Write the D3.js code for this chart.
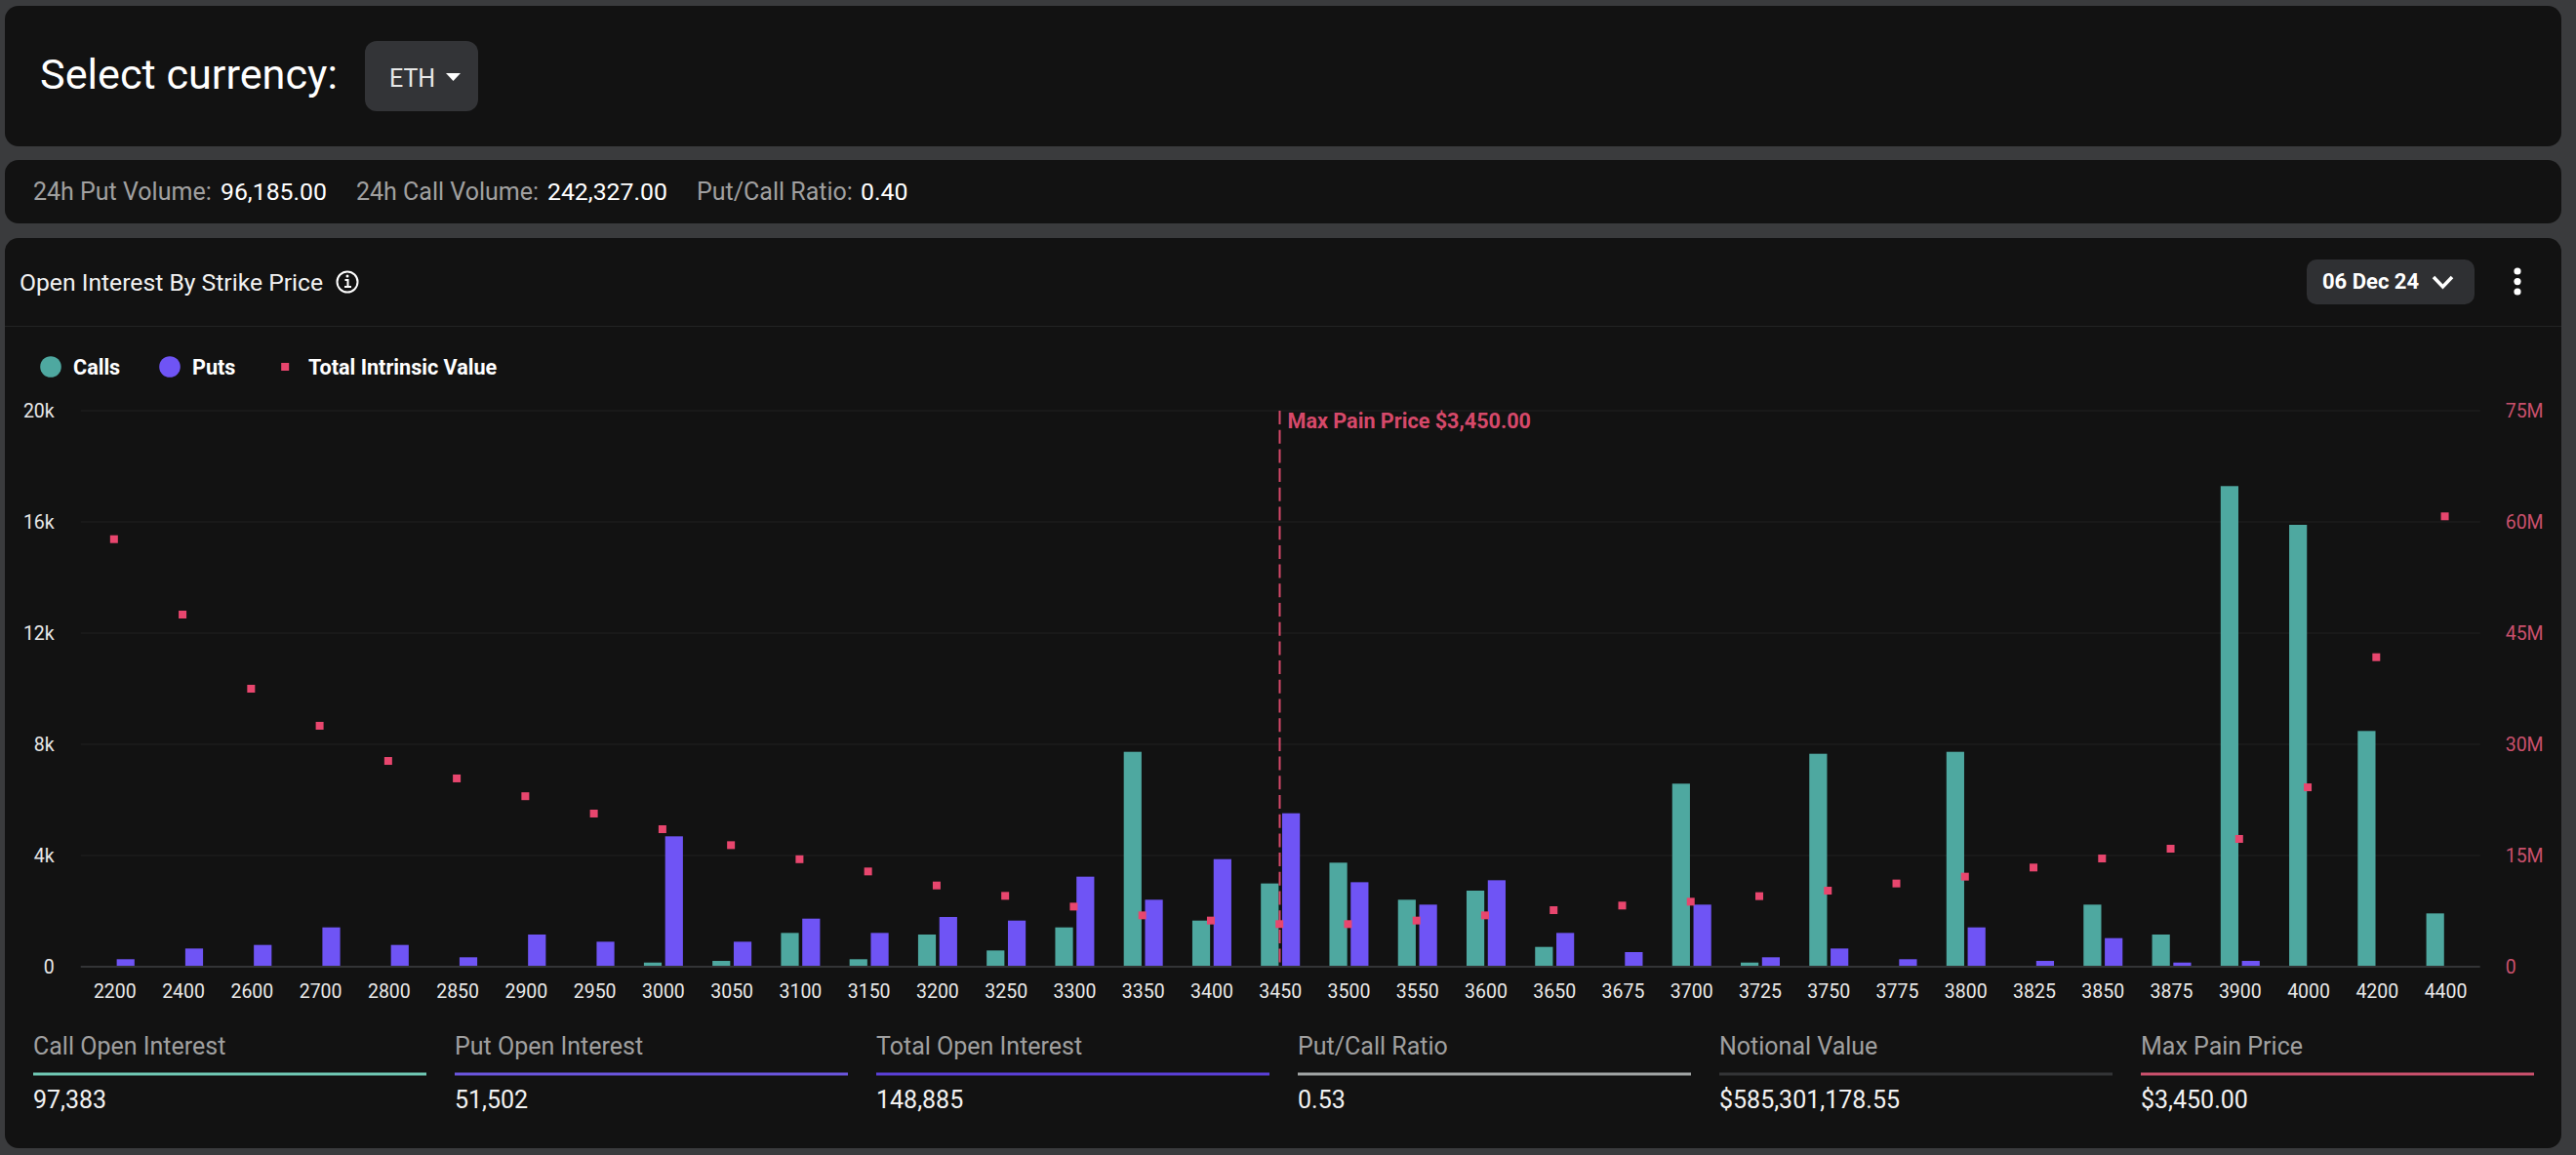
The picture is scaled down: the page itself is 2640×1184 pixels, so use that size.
<!DOCTYPE html>
<html>
<head>
<meta charset="utf-8">
<script src="https://cdn.jsdelivr.net/npm/d3@7"></script>
<style>
  html, body { margin: 0; padding: 0; background: #3a3b3d; overflow: hidden; }
  svg { display: block; }
  text { font-family: Roboto, sans-serif; }
</style>
</head>
<body>
<div id="chart"></div>
<script>
// values
const strikes = ['2200','2400','2600','2700','2800','2850','2900','2950','3000','3050','3100','3150','3200','3250','3300','3350','3400','3450','3500','3550','3600','3650','3675','3700','3725','3750','3775','3800','3825','3850','3875','3900','4000','4200','4400'];
const calls = [0,0,0,0,0,0,0,0,150,210,1216,270,1158,585,1415,7730,1660,2995,3743,2410,2737,713,0,6585,150,7660,0,7730,0,2234,1158,17288,15895,8480,1918];
const puts = [270,655,784,1415,784,340,1158,900,4690,900,1730,1216,1790,1660,3240,2410,3870,5520,3040,2234,3111,1216,526,2234,340,655,270,1415,210,1029,150,210,0,0,0];
const intrinsic = [57.67,47.5,37.5,32.5,27.76,25.4,23.0,20.66,18.55,16.4,14.5,12.85,10.96,9.56,8.11,6.93,6.23,5.75,5.75,6.23,6.93,7.63,8.25,8.77,9.52,10.26,11.23,12.15,13.38,14.6,15.92,17.24,24.2,41.75,60.75];

const leftTicks = [0, 4000, 8000, 12000, 16000, 20000];
const rightTicks = [0, 15, 30, 45, 60, 75];

const maxPainStrike = '3450';
const maxPainLabel = 'Max Pain Price $3,450.00';

const statLabels = ['Call Open Interest','Put Open Interest','Total Open Interest','Put/Call Ratio','Notional Value','Max Pain Price'];
const statValues = ['97,383','51,502','148,885','0.53','$585,301,178.55','$3,450.00'];
const statColors = ['#6fc7b3','#6a55dc','#5a3fd6','#a0a3a3','#333436','#c9506c'];

const cardColor = '#121212';
const callColor = '#4ea8a0';
const putColor = '#6f54f5';
const redDot = '#e8466e';
const redText = '#d6496a';
const mutedText = '#a0a0a0';

let svg = d3.select('#chart').append('svg')
  .attr('width', 2640)
  .attr('height', 1184);

// page cards
[[5, 6, 2620, 144], [5, 164, 2620, 65], [5, 244, 2620, 933]].forEach(function(c) {
  svg.append('rect')
    .attr('x', c[0]).attr('y', c[1]).attr('width', c[2]).attr('height', c[3])
    .attr('rx', 14).attr('fill', cardColor);
});

function label(g, x, y, str, size, fill, weight) {
  return g.append('text')
    .attr('x', x).attr('y', y)
    .attr('font-size', size)
    .attr('font-weight', weight || 400)
    .attr('fill', fill)
    .text(str);
}

// currency selector
label(svg, 41, 91, 'Select currency:', 43.2, '#fff');
svg.append('rect').attr('x', 374).attr('y', 42).attr('width', 116).attr('height', 72)
  .attr('rx', 12).attr('fill', '#333437');
label(svg, 399, 89, 'ETH', 25, '#e8e8e8');
svg.append('path').attr('d', 'M457 75H472L464.5 83Z').attr('fill', '#fff');

// volume strip
label(svg, 34, 205, '24h Put Volume:', 25, mutedText);
label(svg, 226, 205, '96,185.00', 24.8, '#fff');
label(svg, 365, 205, '24h Call Volume:', 25, mutedText);
label(svg, 561, 205, '242,327.00', 24.8, '#fff');
label(svg, 714, 205, 'Put/Call Ratio:', 25, mutedText);
label(svg, 882, 205, '0.40', 24.8, '#fff');

// chart header
label(svg, 20, 298, 'Open Interest By Strike Price', 24.7, '#f2f2f2');
let info = svg.append('g').attr('transform', 'translate(356,289)');
info.append('circle').attr('r', 10.5).attr('fill', 'none').attr('stroke', '#fff').attr('stroke-width', 2);
info.append('path').attr('d', 'M-2.5 -2H0.5V5M-3 5H4').attr('fill', 'none').attr('stroke', '#fff').attr('stroke-width', 2);
info.append('circle').attr('cx', 0).attr('cy', -6).attr('r', 1.5).attr('fill', '#fff');

svg.append('line').attr('x1', 5).attr('x2', 2625).attr('y1', 334.5).attr('y2', 334.5)
  .attr('stroke', '#222324').attr('stroke-width', 1);

svg.append('rect').attr('x', 2364).attr('y', 266).attr('width', 172).attr('height', 46)
  .attr('rx', 10).attr('fill', '#2f3033');
label(svg, 2380, 296, '06 Dec 24', 22, '#fff', 700);
svg.append('path').attr('d', 'M2494 284L2503.5 294L2513 284').attr('fill', 'none')
  .attr('stroke', '#fff').attr('stroke-width', 3.5);
svg.selectAll('.menu-dot').data([278, 288.6, 299]).enter().append('circle')
  .attr('class', 'menu-dot')
  .attr('cx', 2580).attr('cy', d => d).attr('r', 3.6).attr('fill', '#fff');

// legend
svg.append('circle').attr('cx', 52).attr('cy', 376).attr('r', 10.8).attr('fill', callColor);
label(svg, 75, 384, 'Calls', 21.6, '#fff', 700);
svg.append('circle').attr('cx', 174).attr('cy', 376).attr('r', 10.8).attr('fill', putColor);
label(svg, 197, 384, 'Puts', 21.6, '#fff', 700);
svg.append('rect').attr('x', 288.2).attr('y', 372).attr('width', 8).attr('height', 8).attr('fill', redDot);
label(svg, 316, 384, 'Total Intrinsic Value', 21.6, '#fff', 700);

// scales
let x = d3.scaleBand().domain(strikes).range([82.7, 2541.7]);
let xSeries = d3.scaleBand().domain(['calls', 'puts']).range([-20, 20]).paddingInner(0.165);
let yCount = d3.scaleLinear().domain([0, 20000]).range([991, 421]);
let yMoney = d3.scaleLinear().domain([0, 75]).range([991, 421]);

// grid
svg.append('g').selectAll('line')
  .data(leftTicks.slice(1))
  .enter().append('line')
  .attr('x1', 82.7).attr('x2', 2541.7)
  .attr('y1', d => yCount(d)).attr('y2', d => yCount(d))
  .attr('stroke', '#1d1d1d').attr('stroke-width', 1.5);

// axes
let leftAxis = d3.axisLeft(yCount).tickValues(leftTicks).tickSize(0).tickPadding(27)
  .tickFormat(d => d === 0 ? '0' : (d / 1000) + 'k');
let rightAxis = d3.axisRight(yMoney).tickValues(rightTicks).tickSize(0).tickPadding(26)
  .tickFormat(d => d === 0 ? '0' : d + 'M');
let bottomAxis = d3.axisBottom(x).tickSize(0).tickPadding(18);

let gLeft = svg.append('g').attr('transform', 'translate(82.7,0)').call(leftAxis);
let gRight = svg.append('g').attr('transform', 'translate(2541.7,0)').call(rightAxis);
let gBottom = svg.append('g').attr('transform', 'translate(0,991)').call(bottomAxis);

[gLeft, gRight, gBottom].forEach(function(g) {
  g.attr('font-family', 'Roboto, sans-serif').attr('font-size', 19.5);
  g.selectAll('.domain').remove();
});
gLeft.selectAll('text').attr('fill', '#e8e8e8').attr('dy', '0.35em');
gRight.selectAll('text').attr('fill', '#c9506c').attr('dy', '0.35em');
gBottom.selectAll('text').attr('fill', '#e8e8e8');

svg.append('line').attr('x1', 82.7).attr('x2', 2541.7).attr('y1', 991).attr('y2', 991)
  .attr('stroke', '#333436').attr('stroke-width', 2);

// bars
let barGroups = svg.append('g').selectAll('g')
  .data(strikes)
  .enter().append('g')
  .attr('transform', d => 'translate(' + (x(d) + x.bandwidth() / 2) + ',0)');

barGroups.append('rect')
  .attr('x', xSeries('calls')).attr('width', xSeries.bandwidth())
  .attr('y', (d, i) => yCount(calls[i]))
  .attr('height', (d, i) => 990 - yCount(calls[i]) > 0 ? 990 - yCount(calls[i]) : 0)
  .attr('fill', callColor);

barGroups.append('rect')
  .attr('x', xSeries('puts')).attr('width', xSeries.bandwidth())
  .attr('y', (d, i) => yCount(puts[i]))
  .attr('height', (d, i) => 990 - yCount(puts[i]) > 0 ? 990 - yCount(puts[i]) : 0)
  .attr('fill', putColor);

// max pain marker
let painX = x(maxPainStrike) + x.bandwidth() / 2 - 0.7;
svg.append('line')
  .attr('x1', painX).attr('x2', painX).attr('y1', 421).attr('y2', 991)
  .attr('stroke', redText).attr('stroke-width', 2)
  .attr('stroke-dasharray', '14 5.7');
label(svg, painX + 8, 438.5, maxPainLabel, 21.6, redText, 700);

// intrinsic value points
svg.append('g').selectAll('rect')
  .data(intrinsic)
  .enter().append('rect')
  .attr('x', (d, i) => x(strikes[i]) + x.bandwidth() / 2 - 5)
  .attr('y', d => yMoney(d) - 4)
  .attr('width', 8).attr('height', 8)
  .attr('fill', redDot);

// stat footer
let statX = d3.scaleBand().domain(statLabels).range([34, 2597]).paddingInner(29 / 432);
let stats = svg.append('g').selectAll('g')
  .data(statLabels)
  .enter().append('g')
  .attr('transform', d => 'translate(' + statX(d) + ',0)');

stats.append('text').attr('y', 1081).attr('font-size', 25).attr('fill', mutedText).text(d => d);
stats.append('rect').attr('y', 1099.5).attr('width', statX.bandwidth()).attr('height', 3).attr('fill', (d, i) => statColors[i]);
stats.append('text').attr('y', 1136).attr('font-size', 25).attr('fill', '#f2f2f2').text((d, i) => statValues[i]);
</script>
</body>
</html>
